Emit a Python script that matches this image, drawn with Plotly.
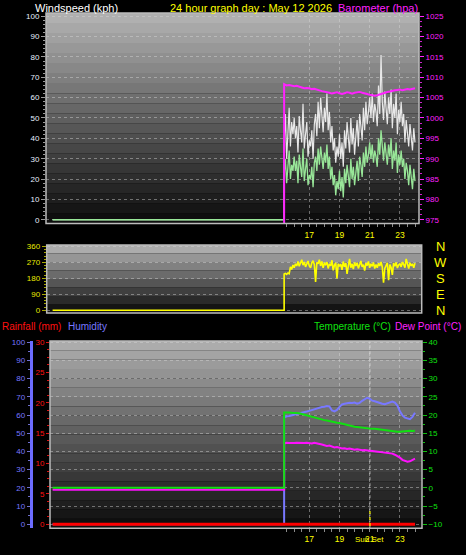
import pandas as pd
import plotly.graph_objects as go

# ---------------- data ----------------
DAY = pd.Timestamp("2026-05-12 00:00")
DATA_START = pd.Timestamp("2026-05-12 15:20")
SUNSET = pd.Timestamp("2026-05-12 21:01")

# 5-minute wind samples from 15:20 to 24:00 (kph)
wind_gust = [38, 52, 30, 45, 55, 36, 48, 42, 50,
             40, 46, 33, 51, 44, 38, 57, 35, 42, 48, 31, 39,
             36, 44, 30, 47, 52, 41, 58, 45, 60, 50, 43, 55,
             48, 62, 44, 53, 38, 46, 34, 40, 28, 36, 31, 42,
             30, 38, 26, 44, 35, 48, 40, 33, 50, 37, 45, 32,
             41, 49, 36, 52, 46, 39, 55, 44, 58, 47, 53, 60,
             50, 62, 48, 57, 53, 46, 66, 52, 81, 58, 49, 63,
             55, 47, 60, 52, 64, 45, 57, 50, 62, 42, 54, 48,
             58, 46, 52, 38, 49, 44, 36, 47, 40, 34, 45, 38]
wind_avg = [22, 30, 18, 28, 34, 20, 27, 24, 31,
            24, 29, 18, 32, 26, 21, 35, 19, 25, 30, 17, 22,
            20, 26, 16, 28, 31, 24, 35, 27, 36, 30, 25, 33,
            28, 37, 25, 31, 20, 26, 17, 22, 12, 19, 15, 24,
            14, 21, 11, 25, 18, 27, 22, 16, 30, 20, 26, 17,
            23, 29, 19, 31, 27, 21, 33, 26, 36, 28, 32, 38,
            30, 37, 28, 34, 31, 26, 40, 32, 44, 35, 29, 38,
            33, 27, 37, 31, 40, 25, 34, 29, 38, 23, 32, 27,
            34, 26, 30, 20, 28, 24, 17, 27, 21, 15, 25, 19]
wind_dir = [205, 208, 202, 210, 206, 245, 230, 255, 240,
            262, 250, 275, 248, 268, 285, 255, 272, 245, 260, 278, 250,
            240, 268, 280, 258, 160, 270, 262, 285, 250, 275, 240, 265,
            258, 272, 236, 262, 250, 282, 225, 255, 268, 180, 262, 248,
            260, 228, 275, 245, 266, 205, 258, 290, 240, 262, 232, 270,
            250, 268, 236, 262, 278, 245, 258, 224, 266, 252, 275, 240,
            262, 248, 270, 235, 258, 240, 265, 250, 272, 244, 155, 236,
            250, 268, 170, 258, 242, 200, 266, 248, 270, 238, 256, 262,
            245, 272, 258, 240, 290, 262, 235, 268, 250, 262, 240, 266]

# 10-minute samples from 15:20 to 24:00
baro_hpa = [1008.3, 1008.0, 1008.1, 1007.9,
            1007.8, 1007.9, 1007.6, 1007.5, 1007.3, 1007.4,
            1007.3, 1007.1, 1007.2, 1006.9, 1006.8, 1006.6,
            1006.5, 1006.4, 1006.2, 1006.0, 1006.1, 1006.3,
            1006.1, 1005.9, 1006.1, 1006.3, 1006.2, 1006.0,
            1006.2, 1006.3, 1006.4, 1006.2, 1006.1, 1005.9,
            1005.7, 1005.6, 1005.5, 1005.6, 1005.8, 1006.1,
            1006.3, 1006.4, 1006.5, 1006.7, 1006.8, 1006.9,
            1007.0, 1006.8, 1007.0, 1007.1, 1007.0, 1007.2,
            1007.3]
temp_c = [20.7, 20.8, 20.7, 20.6,
          20.6, 20.5, 20.5, 20.3, 20.1, 19.8,
          19.6, 19.4, 19.3, 19.1, 18.9, 18.7,
          18.6, 18.5, 18.3, 18.2, 18.0, 17.9,
          17.8, 17.6, 17.4, 17.2, 17.0, 16.9,
          16.8, 16.7, 16.6, 16.5, 16.4, 16.4,
          16.3, 16.2, 16.2, 16.1, 16.0, 15.9,
          15.9, 15.8, 15.7, 15.6, 15.5, 15.4,
          15.4, 15.5, 15.6, 15.6, 15.7, 15.6,
          15.7]
dew_c = [12.2, 12.4, 12.3, 12.2,
         12.3, 12.4, 12.3, 12.2, 12.3, 12.4,
         12.3, 12.2, 12.4, 12.3, 12.1, 11.9,
         11.7, 11.5, 11.6, 11.3, 11.1, 11.2,
         11.0, 10.8, 10.9, 10.7, 10.8, 10.6,
         10.5, 10.6, 10.4, 10.3, 10.4, 10.2,
         10.2, 10.1, 10.0, 10.1, 9.9, 9.8,
         9.7, 9.6, 9.5, 9.4, 9.1, 8.8,
         8.3, 7.7, 7.4, 7.2, 7.3, 7.6,
         8.0]
humidity = [58.6, 59.3, 59.5, 59.8,
            60.0, 60.4, 60.6, 60.9, 61.4, 61.9,
            62.3, 62.8, 63.2, 63.5, 63.9, 64.4,
            64.6, 64.9, 64.7, 62.5, 62.0, 62.8,
            64.5, 65.8, 66.2, 66.5, 66.8, 66.6,
            66.9, 66.3, 66.7, 67.8, 68.9, 69.5,
            69.0, 67.9, 67.6, 67.0, 66.6, 66.2,
            65.9, 66.4, 67.0, 67.4, 66.8, 65.2,
            62.0, 59.8, 58.6, 58.0, 57.7, 59.0,
            61.3]
rain_mm = [0.0, 0.0]

# flat readings shown before the logger started
pre_wind = [0, 0]
pre_dir = [0, 0]
pre_baro = [0, 0]
pre_temp = [0.0, 0.0]
pre_dew = [-0.5, -0.5]
pre_hum = [0, 0]

hour_ticks = [17, 19, 21, 23]
hour_labels = ["17", "19", "21", "23"]
dir_ticks = [0, 90, 180, 270, 360]
dir_labels = ["N", "E", "S", "W", "N"]

# ---------------- helpers ----------------
W, H = 466, 555
FONT = "Liberation Sans, Arial, sans-serif"


def px_x(p):
    return p / W


def px_y(p):
    return 1 - p / H


def hrs(h):
    return DAY + pd.Timedelta(hours=h)


t5 = pd.date_range(DATA_START, periods=len(wind_gust), freq="5min")
t10 = pd.date_range(DATA_START, periods=len(baro_hpa), freq="10min")
pre_t = [DAY, DATA_START]
x5 = pre_t + list(t5)
x10 = pre_t + list(t10)
tickvals = [hrs(h) for h in hour_ticks]
minor_vals = list(pd.date_range(hrs(15.5), hrs(24), freq="30min"))

fig = go.Figure()

# top panel: wind + barometer
fig.add_trace(go.Scatter(x=x5, y=pre_wind + wind_gust, mode="lines",
                         line=dict(color="#e8e8e8", width=1.2), xaxis="x", yaxis="y"))
fig.add_trace(go.Scatter(x=x5, y=pre_wind + wind_avg, mode="lines",
                         line=dict(color="#98e698", width=1.3), xaxis="x", yaxis="y"))
fig.add_trace(go.Scatter(x=x10, y=pre_baro + baro_hpa, mode="lines",
                         line=dict(color="#ff22ff", width=2), xaxis="x", yaxis="y2"))

# middle panel: wind direction
fig.add_trace(go.Scatter(x=x5, y=pre_dir + wind_dir, mode="lines",
                         line=dict(color="#ffff00", width=1.6), xaxis="x2", yaxis="y3"))

# bottom panel
fig.add_trace(go.Scatter(x=x10, y=pre_hum + humidity, mode="lines",
                         line=dict(color="#7878ff", width=2), xaxis="x3", yaxis="y5"))
fig.add_trace(go.Scatter(x=x10, y=pre_dew + dew_c, mode="lines",
                         line=dict(color="#ff10ff", width=2), xaxis="x3", yaxis="y6"))
fig.add_trace(go.Scatter(x=x10, y=pre_temp + temp_c, mode="lines",
                         line=dict(color="#10e010", width=2), xaxis="x3", yaxis="y6"))
fig.add_trace(go.Scatter(x=[DAY, hrs(24)], y=rain_mm, mode="lines",
                         line=dict(color="#ff0000", width=3), xaxis="x3", yaxis="y7"))

# panel geometry (pixels)
TOP = dict(l=46, r=419, t=10, b=222.5)
MID = dict(l=46.7, r=421.7, t=244.3, b=312.7)
BOT = dict(l=50, r=422, t=341, b=530)
X0, PXH = 52.6, 15.1


def xrange(p):
    return [hrs((p["l"] - X0) / PXH), hrs((p["r"] - X0) / PXH)]


grid = "rgba(215,215,215,0.45)"

xcommon = dict(type="date", showline=False, zeroline=False, tickmode="array",
               tickvals=tickvals, ticktext=hour_labels, ticks="outside",
               ticklen=3, tickcolor="#8a8a8a",
               tickfont=dict(family=FONT, size=8.5, color="#ffff00"),
               showgrid=True, gridcolor=grid, griddash="dot",
               minor=dict(tickmode="array", tickvals=minor_vals, ticks="outside",
                          ticklen=3, tickcolor="#8a8a8a", showgrid=False))

DIR_RANGE = [-15.1, 367.8]

layout = dict(
    width=W, height=H, margin=dict(l=0, r=0, t=0, b=0),
    paper_bgcolor="black", plot_bgcolor="black", showlegend=False,
    font=dict(family=FONT),
    xaxis=dict(domain=[px_x(TOP["l"]), px_x(TOP["r"])], anchor="y",
               range=xrange(TOP), **xcommon),
    yaxis=dict(domain=[px_y(TOP["b"]), px_y(TOP["t"])], anchor="x",
               range=[-1.85, 101.65], tick0=0, dtick=10, zeroline=False,
               tickfont=dict(family=FONT, size=8, color="#e6eeff"),
               ticks="outside", ticklen=4, tickcolor="#9a9a9a",
               minor=dict(dtick=2, tick0=0, ticks="outside", ticklen=2, tickcolor="#9a9a9a"),
               showgrid=True, gridcolor=grid, griddash="dot", showline=False),
    yaxis2=dict(overlaying="y", side="right", anchor="x",
                range=[974.075, 1025.825], tick0=975, dtick=5, zeroline=False,
                tickfont=dict(family=FONT, size=8, color="#ff22ff"),
                ticks="outside", ticklen=4, tickcolor="#ff22ff",
                minor=dict(dtick=1.25, tick0=975, ticks="outside", ticklen=2, tickcolor="#cc22cc"),
                showgrid=False, showline=False),
    xaxis2=dict(domain=[px_x(MID["l"]), px_x(MID["r"])], anchor="y3", type="date",
                range=xrange(MID), showticklabels=False, ticks="", showgrid=False,
                zeroline=False, showline=False),
    yaxis3=dict(domain=[px_y(MID["b"]), px_y(MID["t"])], anchor="x2",
                range=DIR_RANGE, tick0=0, dtick=90, zeroline=False,
                tickfont=dict(family=FONT, size=8, color="#eaea00"),
                ticks="outside", ticklen=4, tickcolor="#a8a800",
                minor=dict(dtick=18, tick0=0, ticks="outside", ticklen=2, tickcolor="#a8a800"),
                showgrid=True, gridcolor=grid, griddash="dot", showline=False),
    xaxis3=dict(domain=[px_x(BOT["l"]), px_x(BOT["r"])], anchor="y6",
                range=xrange(BOT), **xcommon),
    # humidity (main axis of bottom subplot, free at far left)
    yaxis5=dict(domain=[px_y(BOT["b"]), px_y(BOT["t"])], anchor="free",
                position=px_x(30.5), side="left",
                range=[-2.18, 100.71], tick0=0, dtick=10, zeroline=False,
                tickfont=dict(family=FONT, size=8, color="#7878ff"),
                ticks="outside", ticklen=3, tickcolor="#7070d0",
                minor=dict(dtick=5, tick0=0, ticks="outside", ticklen=2, tickcolor="#7070d0"),
                showline=True, linecolor="#6c6cff", linewidth=2.5,
                showgrid=True, gridcolor=grid, griddash="dot"),
    # temperature / dew point (right)
    yaxis6=dict(overlaying="y5", side="right", anchor="x3",
                range=[-11.09, 40.355], tick0=-10, dtick=5, zeroline=False,
                tickfont=dict(family=FONT, size=8, color="#10e010"),
                ticks="outside", ticklen=4, tickcolor="#10c010",
                minor=dict(dtick=2.5, tick0=-10, ticks="outside", ticklen=2, tickcolor="#10c010"),
                showgrid=False, showline=False),
    # rainfall (left, next to plot)
    yaxis7=dict(overlaying="y5", side="left", anchor="x3",
                range=[-0.654, 30.213], tick0=0, dtick=5, zeroline=False,
                tickfont=dict(family=FONT, size=8, color="#ff1010"),
                ticks="outside", ticklen=3, tickcolor="#e01010",
                minor=dict(dtick=1.25, tick0=0, ticks="outside", ticklen=2, tickcolor="#e01010"),
                showgrid=False, showline=False),
)
fig.update_layout(**layout)

# background gradient bands + frames
shapes = []


def bands(xref, yref, top_g, bot_g, n):
    for i in range(n):
        f = i / (n - 1)
        g = int(round(top_g + (bot_g - top_g) * f))
        shapes.append(dict(type="rect", xref=xref, yref=yref, x0=0, x1=1,
                           y0=1 - (i + 1) / n, y1=1 - i / n, layer="below",
                           fillcolor=f"rgb({g},{g},{g})", line=dict(width=0)))


bands("x domain", "y domain", 176, 14, 21)
bands("x2 domain", "y3 domain", 172, 20, 8)
bands("x3 domain", "y5 domain", 172, 14, 20)
for xr, yr in [("x domain", "y domain"), ("x2 domain", "y3 domain"), ("x3 domain", "y5 domain")]:
    shapes.append(dict(type="rect", xref=xr, yref=yr, x0=0, x1=1, y0=0, y1=1,
                       layer="above", line=dict(color="#bcbcbc", width=1.5),
                       fillcolor="rgba(0,0,0,0)"))
# sunset marker
shapes.append(dict(type="line", xref="x3", yref="y5 domain", x0=SUNSET, x1=SUNSET,
                   y0=0, y1=1, layer="below",
                   line=dict(color="rgba(235,235,235,0.7)", width=1, dash="dot")))
shapes.append(dict(type="line", xref="x3", yref="y5 domain", x0=SUNSET, x1=SUNSET,
                   y0=0.012, y1=0.106, layer="above",
                   line=dict(color="#ffff00", width=1.2, dash="dot")))
fig.update_layout(shapes=shapes)

ann = []


def text(s, x, y, color, size=11, xanchor="left"):
    ann.append(dict(text=s, x=px_x(x), y=px_y(y), xref="paper", yref="paper",
                    xanchor=xanchor, yanchor="middle", showarrow=False,
                    font=dict(family=FONT, size=size, color=color)))


text("Windspeed (kph)", 33, 5.5, "#ffffff")
text("24 hour graph day : May 12 2026", 250.5, 5.5, "#ffff00", xanchor="center")
text("Barometer (hpa)", 419.5, 5.5, "#ff22ff", xanchor="right")
text("Rainfall (mm)", -0.5, 326, "#ff1010", size=10)
text("Humidity", 66, 326, "#7878ff", size=10)
text("Temperature (°C)", 393, 326, "#10e010", size=10, xanchor="right")
text("Dew Point (°C)", 392.5, 326, "#ff22ff", size=10)
ann.append(dict(text="Sun Set", x=SUNSET, xref="x3", y=px_y(541), yref="paper",
                xanchor="center", yanchor="middle", showarrow=False,
                font=dict(family=FONT, size=8, color="#ffff00")))
# compass letters on the right of the direction panel
for v, lab in zip(dir_ticks, dir_labels):
    ann.append(dict(text=lab, x=px_x(440), xref="paper", y=v, yref="y3",
                    xanchor="center", yanchor="middle", showarrow=False,
                    font=dict(family=FONT, size=13, color="#ffff00")))
fig.update_layout(annotations=ann)

fig.write_html("out.html", config=dict(displayModeBar=False),
               post_script="document.body.style.margin='0px';document.body.style.padding='0px';"
                           "document.documentElement.style.overflow='hidden';")
